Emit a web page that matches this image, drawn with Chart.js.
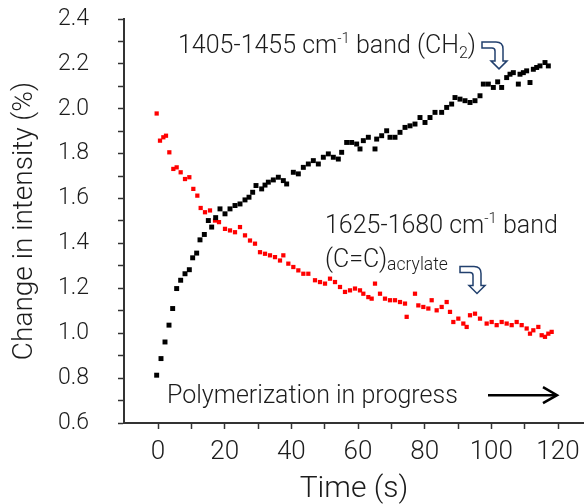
<!DOCTYPE html>
<html>
<head>
<meta charset="utf-8">
<script src="https://cdn.jsdelivr.net/npm/chart.js@4.4.1/dist/chart.umd.min.js"></script>
<style>
  html, body { margin: 0; padding: 0; background: #fff; }
  canvas { display: block; }
</style>
</head>
<body>
<canvas id="chart" width="584" height="504"></canvas>
<script>
// CH2 band (black squares)
const timeCH2 = [-0.4, 0.9, 2.1, 3.3, 4.4, 5.6, 6.8, 8.1, 9.4, 10.4, 11.6, 12.6, 13.9, 15.1, 16.1, 17.3, 18.6, 20.1,
  21.6, 23.1, 24.6, 26.1, 27.3, 28.4, 29.4, 31.1, 32.1, 33.1, 34.6, 36.1, 37.6, 38.6, 40.6, 42.1, 43.6, 45.1,
  46.6, 48.1, 49.6, 51.1, 52.6, 54.1, 55.1, 56.6, 58.1, 59.6, 60.6, 61.6, 63.1, 65.1, 65.6, 67.1, 68.6, 69.6,
  71.1, 72.6, 74.1, 75.6, 77.1, 78.6, 80.1, 81.6, 83.1, 85.1, 86.6, 88.1, 89.1, 90.6, 92.1, 93.6, 95.1, 96.6,
  97.6, 99.1, 100.6, 101.9, 103.1, 104.6, 105.6, 106.6, 108.1, 108.6, 109.6, 110.6, 111.6, 112.6, 113.6, 114.6,
  116.1, 117.1];
const valCH2 = [0.813, 0.887, 0.961, 1.036, 1.110, 1.199, 1.236, 1.265, 1.283, 1.336, 1.357, 1.416, 1.440, 1.502, 1.473, 1.515, 1.554, 1.532,
  1.554, 1.569, 1.576, 1.594, 1.606, 1.628, 1.658, 1.643, 1.660, 1.673, 1.683, 1.695, 1.680, 1.665, 1.717, 1.710, 1.739, 1.754,
  1.769, 1.754, 1.784, 1.799, 1.784, 1.776, 1.806, 1.850, 1.850, 1.843, 1.821, 1.858, 1.873, 1.821, 1.865, 1.880, 1.902, 1.873,
  1.873, 1.895, 1.917, 1.924, 1.932, 1.961, 1.939, 1.961, 1.984, 1.984, 2.006, 2.021, 2.050, 2.043, 2.036, 2.028, 2.036, 2.058,
  2.110, 2.110, 2.095, 2.120, 2.095, 2.139, 2.154, 2.161, 2.110, 2.154, 2.161, 2.169, 2.117, 2.176, 2.184, 2.191,
  2.206, 2.191];

// C=C acrylate band (red)
const timeCC = [-0.4, 0.6, 1.6, 2.4, 3.4, 4.6, 5.6, 6.8, 8.1, 9.4, 10.6, 11.8, 12.8, 14.1, 15.6, 17.1, 18.3, 20.1,
  21.6, 23.1, 24.6, 26.1, 27.6, 29.1, 30.6, 32.1, 33.6, 35.1, 36.6, 37.6, 39.1, 40.6, 42.1, 43.6, 45.1, 47.1,
  48.6, 50.1, 51.6, 53.1, 54.6, 56.1, 57.6, 59.1, 60.6, 61.6, 63.1, 64.1, 65.1, 66.6, 68.1, 69.6, 71.1, 72.6,
  74.1, 74.6, 77.1, 78.1, 79.6, 81.1, 82.1, 83.6, 85.1, 86.6, 87.6, 88.6, 90.1, 91.6, 92.6, 93.6, 95.1, 96.6,
  98.6, 100.1, 101.6, 103.1, 104.6, 106.1, 107.6, 109.1, 110.6, 111.6, 112.6, 114.1, 115.1, 116.1, 117.1, 118.1];
const valCC = [1.979, 1.858, 1.873, 1.880, 1.806, 1.732, 1.739, 1.717, 1.687, 1.695, 1.643, 1.613, 1.558, 1.539, 1.547, 1.502, 1.495, 1.465,
  1.458, 1.450, 1.473, 1.436, 1.413, 1.399, 1.361, 1.354, 1.347, 1.339, 1.324, 1.347, 1.310, 1.295, 1.280, 1.265, 1.265, 1.236,
  1.228, 1.221, 1.243, 1.228, 1.206, 1.184, 1.191, 1.199, 1.191, 1.176, 1.161, 1.154, 1.221, 1.176, 1.154, 1.147, 1.147, 1.139,
  1.132, 1.073, 1.176, 1.124, 1.117, 1.110, 1.147, 1.102, 1.117, 1.139, 1.095, 1.050, 1.065, 1.043, 1.028, 1.080, 1.087, 1.065,
  1.043, 1.050, 1.036, 1.050, 1.043, 1.036, 1.050, 1.036, 1.021, 0.998, 1.013, 1.028, 0.991, 0.984, 0.998, 1.006];

const xTicks = [0, 10, 20, 30, 40, 50, 60, 70, 80, 90, 100, 110, 120];
const xLabels = ["0", "", "20", "", "40", "", "60", "", "80", "", "100", "", "120"];
const yTicks = [0.6, 0.7, 0.8, 0.9, 1.0, 1.1, 1.2, 1.3, 1.4, 1.5, 1.6, 1.7, 1.8, 1.9, 2.0, 2.1, 2.2, 2.3, 2.4];
const yLabels = ["0.6", "", "0.8", "", "1.0", "", "1.2", "", "1.4", "", "1.6", "", "1.8", "", "2.0", "", "2.2", "", "2.4"];

const FONT = "Roboto, 'Liberation Sans', Arial, sans-serif";
const INK = "#1c1c1c";
const AXIS = "#333";

const toPoints = (ts, vs) => ts.map((t, i) => ({ x: t, y: vs[i] }));

// keep the plot area fixed: no extra room for edge labels
function noPad(s) {
  s.paddingTop = 0;
  s.paddingBottom = 0;
  s.paddingLeft = 0;
  s.paddingRight = 0;
}

function drawRuns(ctx, x, y, runs) {
  runs.forEach(r => {
    ctx.font = `300 ${r.size}px ${FONT}`;
    ctx.fillText(r.text, x, y + (r.dy || 0));
    x += ctx.measureText(r.text).width;
  });
}

function bentArrow(ctx, x, y) {
  ctx.save();
  ctx.translate(x, y);
  ctx.beginPath();
  ctx.moveTo(0, 0);
  ctx.lineTo(14, 0);
  ctx.quadraticCurveTo(21, 0, 21, 7);
  ctx.lineTo(21, 19);
  ctx.lineTo(25, 19);
  ctx.lineTo(17, 27);
  ctx.lineTo(9, 19);
  ctx.lineTo(13, 19);
  ctx.lineTo(13, 9);
  ctx.quadraticCurveTo(13, 6, 10, 6);
  ctx.lineTo(0, 6);
  ctx.closePath();
  ctx.fillStyle = "#fff";
  ctx.fill();
  ctx.strokeStyle = "#22406e";
  ctx.lineWidth = 1.5;
  ctx.stroke();
  ctx.restore();
}

// texts and arrows placed in data coordinates
const notes = {
  id: "notes",
  afterDraw(chart) {
    const { ctx, scales: { x, y } } = chart;
    ctx.save();
    ctx.fillStyle = INK;
    ctx.textBaseline = "alphabetic";
    ctx.textAlign = "left";

    drawRuns(ctx, x.getPixelForValue(6.0), y.getPixelForValue(2.249), [
      { text: "1405-1455 cm", size: 25 },
      { text: "-1", size: 15, dy: -10 },
      { text: " band (CH", size: 25 },
      { text: "2", size: 16, dy: 5 },
      { text: ")", size: 25 }
    ]);
    bentArrow(ctx, x.getPixelForValue(97.2), y.getPixelForValue(2.298));

    drawRuns(ctx, x.getPixelForValue(50.1), y.getPixelForValue(1.446), [
      { text: "1625-1680 cm", size: 25 },
      { text: "-1", size: 15, dy: -10 },
      { text: " band", size: 25 }
    ]);
    drawRuns(ctx, x.getPixelForValue(50.1), y.getPixelForValue(1.293), [
      { text: "(C=C)", size: 25 },
      { text: "acrylate", size: 17.5, dy: 3 }
    ]);
    bentArrow(ctx, x.getPixelForValue(90.6), y.getPixelForValue(1.297));

    drawRuns(ctx, x.getPixelForValue(2.7), y.getPixelForValue(0.689), [
      { text: "Polymerization in progress", size: 25 }
    ]);
    const ax0 = x.getPixelForValue(99), ax1 = x.getPixelForValue(119.7), ay = y.getPixelForValue(0.724);
    ctx.strokeStyle = "#000";
    ctx.lineWidth = 2.5;
    ctx.beginPath();
    ctx.moveTo(ax0, ay);
    ctx.lineTo(ax1 - 1, ay);
    ctx.stroke();
    ctx.beginPath();
    ctx.moveTo(ax1 - 14, ay - 8);
    ctx.lineTo(ax1, ay);
    ctx.lineTo(ax1 - 14, ay + 8);
    ctx.stroke();
    ctx.restore();
  }
};

new Chart(document.getElementById("chart"), {
  type: "scatter",
  data: {
    datasets: [
      {
        label: "CH2",
        data: toPoints(timeCH2, valCH2),
        pointStyle: "rect",
        pointRadius: 3.5,
        backgroundColor: "#000",
        borderWidth: 0
      },
      {
        label: "C=C",
        data: toPoints(timeCC, valCC),
        pointStyle: "rect",
        pointRadius: 3,
        backgroundColor: "#ff0000",
        borderWidth: 0
      }
    ]
  },
  options: {
    responsive: false,
    animation: false,
    layout: { autoPadding: false, padding: { top: 19, right: 0, bottom: 0, left: 0 } },
    plugins: { legend: { display: false }, tooltip: { enabled: false } },
    scales: {
      x: {
        type: "linear",
        min: -10.2,
        max: 127.8,
        afterBuildTicks: s => { s.ticks = xTicks.map(v => ({ value: v })); },
        afterFit: s => { s.height = 81; noPad(s); },
        ticks: {
          autoSkip: false,
          maxRotation: 0,
          padding: 8,
          color: INK,
          font: { family: FONT, size: 26, weight: 300 },
          callback: v => xLabels[xTicks.indexOf(v)] ?? ""
        },
        grid: { drawOnChartArea: false, drawTicks: true, tickLength: 6, tickColor: AXIS, tickWidth: 1.5 },
        border: { color: AXIS, width: 2 },
        title: {
          display: true,
          text: "Time (s)",
          color: INK,
          padding: 0,
          font: { family: FONT, size: 30, weight: 300, lineHeight: 1 }
        }
      },
      y: {
        type: "linear",
        min: 0.6,
        max: 2.4,
        afterBuildTicks: s => { s.ticks = yTicks.map(v => ({ value: v })); },
        afterFit: s => { s.width = 124; noPad(s); },
        ticks: {
          autoSkip: false,
          padding: 29,
          color: INK,
          font: { family: FONT, size: 23, weight: 300 },
          callback: v => yLabels[yTicks.findIndex(t => Math.abs(t - v) < 1e-6)] ?? ""
        },
        grid: { drawOnChartArea: false, drawTicks: true, tickLength: 6, tickColor: AXIS, tickWidth: 1.5 },
        border: { color: AXIS, width: 2 },
        title: {
          display: true,
          text: "Change in intensity (%)",
          color: INK,
          padding: { top: 8, bottom: 0 },
          font: { family: FONT, size: 28, weight: 300 }
        }
      }
    }
  },
  plugins: [notes]
});
</script>
</body>
</html>
